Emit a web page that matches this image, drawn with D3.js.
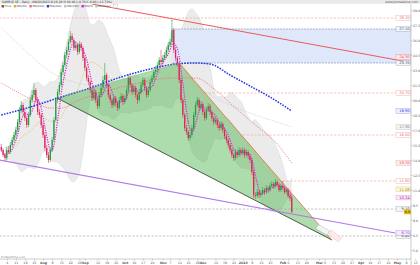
<!DOCTYPE html>
<html lang="en">
<head>
<meta charset="UTF-8" />
<title>daily chart</title>
<style>
  * { margin:0; padding:0; box-sizing:border-box; }
  body { background:#fff; width:420px; height:265px; overflow:hidden; font-family:'DejaVu Sans', sans-serif; }
  svg { display:block; }
  .axis text { font-size:3.2px; fill:#555; font-family:'DejaVu Sans', sans-serif; }
  .axis path, .axis line { stroke:#999; stroke-width:0.5; }
</style>
</head>
<body>
<svg id="chart" width="420" height="265"></svg>
<script src="https://d3js.org/d3.v7.min.js"></script>
<script>
// daily candles, one row per trading day from 29 Jun 2022: [open, high, low, close]
const candles = [
  [15.3,15.6,14.8,15.0],[15.0,15.2,14.3,14.5],[14.5,14.7,13.9,14.2],[14.2,15.3,14.0,15.0],[15.0,15.4,14.6,14.8],
  [14.8,15.8,14.6,15.5],[15.5,16.3,15.3,16.0],[16.0,16.8,15.8,16.5],[16.5,17.3,16.2,17.0],[17.0,18.1,16.8,17.8],
  [17.8,19.3,17.6,19.0],[19.0,19.9,18.7,19.5],[19.5,19.7,18.5,18.8],[18.8,19.1,17.9,18.2],[18.2,18.4,17.2,17.5],
  [17.5,18.8,17.3,18.5],[18.5,20.3,18.3,20.0],[20.0,21.0,19.7,20.5],[20.5,21.7,20.2,21.0],[21.0,21.2,19.8,20.0],
  [20.0,20.3,18.5,18.8],[18.8,19.1,18.2,18.5],[18.5,18.7,17.2,17.5],[17.5,17.8,16.2,16.5],[16.5,16.8,14.9,15.2],
  [15.2,15.5,14.2,14.5],[14.5,14.8,13.7,14.0],[14.0,15.3,13.8,15.0],[15.0,16.3,14.8,16.0],[16.0,18.3,15.8,18.0],
  [18.0,20.3,17.8,20.0],[20.0,21.1,19.7,20.8],[20.8,21.8,20.5,21.5],[21.5,23.1,21.3,22.8],[22.8,23.8,22.5,23.5],
  [23.5,24.8,23.3,24.5],[24.5,25.3,24.2,25.0],[25.0,26.1,24.8,25.8],[25.8,26.9,25.6,26.4],[26.4,26.7,25.7,26.0],
  [26.0,26.2,24.9,25.2],[25.2,25.8,25.0,25.5],[25.5,25.7,24.5,24.8],[24.8,25.9,24.6,25.6],[25.6,25.8,24.9,25.2],
  [25.2,25.4,23.9,24.2],[24.2,24.4,22.9,23.2],[23.2,23.4,21.9,22.2],[22.2,22.5,21.5,21.8],[21.8,22.0,20.7,21.0],
  [21.0,21.3,19.9,20.2],[20.2,21.1,20.0,20.8],[20.8,21.0,19.7,20.0],[20.0,20.2,19.1,19.4],[19.4,20.8,19.2,20.5],
  [20.5,21.5,20.3,21.2],[21.2,22.4,21.0,22.0],[22.0,23.7,21.8,22.5],[22.5,22.7,21.2,21.5],[21.5,21.7,20.2,20.5],
  [20.5,20.7,19.7,20.0],[20.0,20.2,19.2,19.5],[19.5,20.5,19.3,20.2],[20.2,20.4,19.4,19.7],[19.7,19.9,18.9,19.2],
  [19.2,20.3,19.0,20.0],[20.0,20.7,19.8,20.4],[20.4,20.6,19.5,19.8],[19.8,20.5,19.6,20.2],[20.2,21.3,20.0,21.0],
  [21.0,22.6,20.8,22.2],[22.2,22.4,21.2,21.5],[21.5,21.7,20.5,20.8],[20.8,21.5,20.6,21.2],[21.2,21.4,20.2,20.5],
  [20.5,20.7,19.6,20.0],[20.0,21.1,19.8,20.8],[20.8,21.8,20.6,21.5],[21.5,22.3,21.3,22.0],[22.0,22.2,20.9,21.2],
  [21.2,21.4,20.2,20.5],[20.5,21.3,20.3,21.0],[21.0,22.1,20.8,21.8],[21.8,22.5,21.6,22.2],[22.2,23.1,22.0,22.8],
  [22.8,23.4,22.6,23.0],[23.0,23.8,22.8,23.5],[23.5,24.3,23.3,24.0],[24.0,25.0,23.5,23.8],[23.8,24.5,23.6,24.2],
  [24.2,24.8,24.0,24.5],[24.5,25.3,24.3,25.0],[25.0,25.8,24.8,25.5],[25.5,26.1,25.3,25.8],[25.8,27.8,25.6,27.0],
  [27.0,27.2,24.7,25.0],[25.0,25.3,23.9,24.2],[24.2,24.4,23.3,23.6],[23.6,23.8,21.7,22.0],[22.0,22.2,19.7,20.0],
  [20.0,20.2,18.2,18.5],[18.5,18.7,16.9,17.2],[17.2,17.5,16.5,16.8],[16.8,17.0,15.9,16.2],[16.2,16.8,16.0,16.5],
  [16.5,17.5,16.3,17.2],[17.2,18.8,17.0,18.5],[18.5,19.8,18.3,19.5],[19.5,20.3,19.3,20.0],[20.0,20.2,18.9,19.2],
  [19.2,19.9,19.0,19.6],[19.6,19.8,18.5,18.8],[18.8,19.0,17.9,18.2],[18.2,19.3,18.0,19.0],[19.0,19.7,18.8,19.4],
  [19.4,19.6,18.5,18.8],[18.8,19.0,17.9,18.2],[18.2,18.4,17.5,17.8],[17.8,18.3,17.6,18.0],[18.0,18.2,17.2,17.5],
  [17.5,17.7,16.9,17.2],[17.2,17.9,17.0,17.6],[17.6,17.8,16.7,17.0],[17.0,17.2,16.1,16.4],[16.4,16.6,15.7,16.0],
  [16.0,16.2,15.2,15.5],[15.5,15.7,14.7,15.0],[15.0,15.2,14.2,14.5],[14.5,14.7,13.9,14.2],[14.2,15.1,14.0,14.8],
  [14.8,15.0,14.2,14.5],[14.5,15.3,14.3,15.0],[15.0,15.2,14.4,14.7],[14.7,15.3,14.5,15.0],[15.0,15.2,14.2,14.5],
  [14.5,15.1,14.3,14.8],[14.8,15.0,14.1,14.4],[14.4,14.6,13.7,14.0],[14.0,14.2,12.5,12.8],[12.8,13.0,10.2,10.5],
  [10.5,10.8,10.1,10.4],[10.4,11.1,10.2,10.8],[10.8,11.0,10.2,10.5],[10.5,11.0,10.3,10.7],[10.7,11.3,10.5,11.0],
  [11.0,11.2,10.5,10.8],[10.8,11.5,10.6,11.2],[11.2,11.4,10.7,11.0],[11.0,11.7,10.8,11.4],[11.4,11.9,11.2,11.6],
  [11.6,11.8,11.1,11.4],[11.4,12.1,11.2,11.8],[11.8,12.0,11.3,11.5],[11.5,11.7,10.8,11.0],[11.0,11.6,10.8,11.4],
  [11.4,11.9,11.0,11.2],[11.2,11.4,10.6,10.8],[10.8,11.2,10.6,11.0],[11.0,11.2,10.2,10.4],[10.4,10.6,9.9,10.2],
  [10.2,10.4,8.7,8.8]
];
// long moving averages, read at sample days: [dayIndex, price]
const ma100 = [[0,21.7],[14,20.3],[27,19.2],[33,19.2],[43,20.0],[60,21.0],[76,21.7],[93,22.2],[107,22.2],[118,21.0],[129,19.2],[140,17.5],[151,15.8],[160,13.7]];
const ma200 = [[0,18.5],[16,19.3],[33,20.3],[49,21.2],[66,22.3],[82,23.1],[96,23.6],[107,23.7],[115,23.6],[126,22.5],[137,21.4],[148,20.3],[160,18.9]];
const ma150 = [[0,27.2],[10,25.5],[20,23.8],[30,22.5],[40,21.8],[50,21.4],[60,21.2],[70,21.2],[80,21.4],[90,21.6],[100,21.6],[110,21.0],[120,20.0],[130,19.2],[140,18.5],[150,17.9],[160,17.3]];
// drawn objects
const resistanceLevels = [[28.2,-1],[20.7,108],[16.5,131],[11.9,153]]; // [price, from day]
const supportLevels = [[9.1,-1],[6.4,-1]];
const zoneStart = 94, zonePrices = [27.1, 23.7];
const wedge = [[30.7,20.2],[97.9,23.7],[182.2,6.0]];
const trendDown = [[50,29.6],[224,23.8]];
const trendLow = [[-1,14.0],[217,6.7]];
const priceTicks = [5,6.5,8,9.5,11,12.5,14,15.5,17,18.5,20,21.5,23,24.5,26,27.5,29];
const legendNames = ['Price','MA(20)','MA(100)','MA(200)','MA(150)','MA(5)','Bollinger'];
const titleText = 'SAMPLE SE - Daily - 09/02/2023 O:10.20 H:10.40 L:8.70 C:8.80 (-13.73%)';

const up = '#1f9e3c', down = '#e2245a';
const svg = d3.select('#chart');
const R = 411, T = 4, B = 259;
const x = d3.scaleLinear().domain([-0.72, 225.7]).range([0, R]);
const y = d3.scaleLinear().domain([4.1, 29.5]).range([B, 5]);

svg.append('defs').append('clipPath').attr('id','clip')
  .append('rect').attr('x',0).attr('y',T).attr('width',R).attr('height',B-T);
const plot = svg.append('g').attr('clip-path','url(#clip)');

// trading days (weekdays) for the axis
const days = [];
for (let d = new Date(2022,5,29); days.length < 232; d.setDate(d.getDate()+1)) {
  if (d.getDay() % 6 !== 0) days.push(new Date(d));
}

const closes = candles.map(d => d[3]);
function sma(n) {
  return closes.map((c,i) => { const w = closes.slice(Math.max(0,i-n+1), i+1); return [i, d3.mean(w)]; });
}
const ma5 = sma(5), ma20 = sma(20);
const boll = closes.map((c,i) => {
  const w = closes.slice(Math.max(0,i-19), i+1), m = d3.mean(w);
  const s = Math.sqrt(d3.mean(w, v => (v-m)*(v-m)));
  return [i, m+2*s, m-2*s];
}).slice(2);

// bollinger cloud
plot.append('path').datum(boll)
  .attr('d', d3.area().curve(d3.curveMonotoneX).x(d=>x(d[0])).y0(d=>y(d[2])).y1(d=>y(d[1])))
  .attr('fill','#ebebeb');
['1','2'].forEach(k => plot.append('path').datum(boll)
  .attr('d', d3.line().curve(d3.curveMonotoneX).x(d=>x(d[0])).y(d=>y(d[+k])))
  .attr('fill','none').attr('stroke','#d6d6d6').attr('stroke-width',0.5));

// blue zone
plot.append('rect').attr('x',x(zoneStart)).attr('width',R-x(zoneStart))
  .attr('y',y(zonePrices[0])).attr('height',y(zonePrices[1])-y(zonePrices[0]))
  .attr('fill','#dfe7fa');
zonePrices.forEach(p => plot.append('line').attr('x1',x(zoneStart)).attr('x2',R)
  .attr('y1',y(p)).attr('y2',y(p)).attr('stroke','#8d9bbd').attr('stroke-width',0.7).attr('stroke-dasharray','2,1'));

// wedge fill
plot.append('path').datum(wedge)
  .attr('d', d3.line().x(d=>x(d[0])).y(d=>y(d[1])).curve(d3.curveLinearClosed))
  .attr('fill','rgba(60,175,60,0.42)');

// horizontal levels
resistanceLevels.forEach(([p,s]) => plot.append('line').attr('x1',x(s)).attr('x2',R-15)
  .attr('y1',y(p)).attr('y2',y(p)).attr('stroke','#f3a0a0').attr('stroke-width',0.7).attr('stroke-dasharray','2.2,1.6'));
supportLevels.forEach(([p,s]) => plot.append('line').attr('x1',x(s)).attr('x2',R-15)
  .attr('y1',y(p)).attr('y2',y(p)).attr('stroke','#a8a8a8').attr('stroke-width',0.7).attr('stroke-dasharray','2.2,1.6'));

// candles
const cg = plot.append('g');
cg.selectAll('line').data(candles).join('line')
  .attr('x1',(d,i)=>x(i)).attr('x2',(d,i)=>x(i))
  .attr('y1',d=>y(d[1])).attr('y2',d=>y(d[2]))
  .attr('stroke',d=>d[3]>=d[0]?up:down).attr('stroke-width',0.55);
cg.selectAll('rect').data(candles).join('rect')
  .attr('x',(d,i)=>x(i)-0.65).attr('width',1.3)
  .attr('y',d=>y(Math.max(d[0],d[3])))
  .attr('height',d=>Math.max(0.6, Math.abs(y(d[0])-y(d[3]))))
  .attr('fill',d=>d[3]>=d[0]?up:down);
plot.append('circle').attr('cx',x(94)).attr('cy',y(27.8)-1.2).attr('r',0.8).attr('fill','#3bb34a');

// moving averages
const line = d3.line().curve(d3.curveMonotoneX).x(d=>x(d[0])).y(d=>y(d[1]));
function maLine(data, color, w, dash) {
  plot.append('path').datum(data).attr('d',line).attr('fill','none')
    .attr('stroke',color).attr('stroke-width',w).attr('stroke-dasharray',dash);
}
maLine(ma150,'#bdbdbd',0.6,'1,1');
maLine(ma100,'#f06a6a',0.8,'1.2,1.2');
maLine(ma20,'#cdb33a',0.6,'1,1');
maLine(ma200,'#2236e0',1.5,'1.6,1.2');
maLine(ma5,'#dd22d6',1.2,'1.2,1.2');

// drawn trendlines and wedge edges
function seg(a, b, color, w) {
  plot.append('line').attr('x1',x(a[0])).attr('y1',y(a[1])).attr('x2',x(b[0])).attr('y2',y(b[1]))
    .attr('stroke',color).attr('stroke-width',w);
}
seg(wedge[0], wedge[1], '#6fbf6f', 0.5);
seg(wedge[0], wedge[2], '#4d5a4d', 1);
seg(wedge[1], wedge[2], '#e0703a', 0.8);
seg(trendDown[0], trendDown[1], '#ea5a5a', 1);
seg(trendLow[0], trendLow[1], '#b27be6', 1.1);

// small wedge labels near the apex at bottom
plot.append('rect').attr('x',x(wedge[2][0])-16).attr('y',y(wedge[2][1])-13).attr('width',13).attr('height',5)
  .attr('fill','#f4f4f4').attr('stroke','#aaa').attr('stroke-width',0.4).attr('transform',`rotate(30 ${x(wedge[2][0])-10} ${y(wedge[2][1])-10})`);
plot.append('rect').attr('x',x(wedge[2][0])-4).attr('y',y(wedge[2][1])-7).attr('width',13).attr('height',5)
  .attr('fill','#fdeaea').attr('stroke','#f08a8a').attr('stroke-width',0.4).attr('stroke-dasharray','1,0.6')
  .attr('transform',`rotate(40 ${x(wedge[2][0])+2} ${y(wedge[2][1])-4})`);

// right-side value tags
function tag(p, color, fill, border) {
  const g = svg.append('g');
  g.append('rect').attr('x',R-15).attr('y',y(p)-2.3).attr('width',14.5).attr('height',4.6)
    .attr('fill',fill).attr('stroke',border).attr('stroke-width',0.4);
  g.append('text').attr('x',R-1.5).attr('y',y(p)+1.4).attr('text-anchor','end')
    .attr('font-size',3.6).attr('fill',color).text(p.toFixed(2));
}
resistanceLevels.forEach(([p]) => tag(p,'#e86a6a','#fff','#f3a0a0'));
supportLevels.forEach(([p]) => tag(p,'#444','#f4f4f4','#aaa'));
zonePrices.forEach(p => tag(p,'#444','#f2f5fc','#9aa6c4'));
tag(y.invert(y(trendDown[1][1])-5),'#e05050','#fdecec','#ee8a8a');
tag(trendLow[1][1],'#8a4fc8','#f5ecfd','#b27be6');
tag(ma200[ma200.length-1][1],'#2236e0','#eef0ff','#8c96ea');
tag(ma150[ma150.length-1][1],'#777','#f4f4f4','#bbb');
tag(ma100[ma100.length-1][1],'#e04848','#fdecec','#f0a0a0');
tag(ma20[ma20.length-1][1]+0.15,'#9a8420','#fbf6dc','#d8c670');
tag(ma5[ma5.length-1][1],'#b01aa8','#fbe6fa','#e08ade');
{
  const last = closes[closes.length-1];
  svg.append('rect').attr('x',R-7).attr('y',y(last)-2.3).attr('width',7).attr('height',4.6).attr('fill','#e6c200');
  svg.append('text').attr('x',R-0.8).attr('y',y(last)+1.4).attr('text-anchor','end')
    .attr('font-size',3.4).attr('fill','#222').text(last.toFixed(1));
}

// axes
svg.append('g').attr('class','axis').attr('transform',`translate(${R},0)`)
  .call(d3.axisRight(y).tickValues(priceTicks).tickSize(1.5).tickPadding(0.4).tickFormat(d3.format('.1f')))
  .call(g => g.select('.domain').attr('d',`M0,${T}V${B+6}`));

const monthFmt = d3.timeFormat('%b');
const monthIdx = days.map((d,i) => i).filter(i => i > 10 && days[i].getMonth() !== days[i-1].getMonth());
const labelIdx = [], labelText = [], labelBold = [];
days.forEach((d,i) => {
  if (monthIdx.includes(i)) {
    labelIdx.push(i); labelText.push(d.getMonth()===0 ? String(d.getFullYear()) : monthFmt(d)); labelBold.push(true);
  } else if (d.getDay() === 1 && monthIdx.every(m => i - m >= 3 || m - i >= 3)) {
    labelIdx.push(i); labelText.push(String(d.getDate())); labelBold.push(false);
  }
});
const xa = svg.append('g').attr('class','axis').attr('transform',`translate(0,${B})`)
  .call(d3.axisBottom(x).tickValues(labelIdx).tickSize(1.5).tickPadding(0.8)
    .tickFormat((d,k) => labelText[k]));
xa.select('.domain').attr('d',`M0,0H${R}`);
xa.selectAll('.tick text').attr('font-weight',(d,k)=>labelBold[k]?'bold':'normal');

// header
svg.append('rect').attr('x',0).attr('y',0).attr('width',420).attr('height',3.8).attr('fill','#e9e9e9');
svg.append('text').attr('x',2).attr('y',3).attr('font-size',3).attr('fill','#333').text(titleText);
svg.append('text').attr('x',418).attr('y',3).attr('text-anchor','end').attr('font-size',3).attr('fill','#555').text('www.prorealtime.com');
const legendColors = [down,'#cdb33a','#f06a6a','#2236e0','#bdbdbd','#dd22d6','#bbbbbb'];
let lx = 1.5;
legendNames.forEach((n,k) => {
  svg.append('rect').attr('x',lx).attr('y',5).attr('width',2.4).attr('height',2.4).attr('fill',legendColors[k]);
  if (k === 0) svg.append('rect').attr('x',lx+1.2).attr('y',5).attr('width',1.2).attr('height',2.4).attr('fill',up);
  const t = svg.append('text').attr('x',lx+3).attr('y',7.3).attr('font-size',2.8).attr('fill','#444').text(n);
  lx += 3 + t.node().getComputedTextLength() + 2.5;
});
svg.append('rect').attr('x',lx).attr('y',4.8).attr('width',4).attr('height',3).attr('fill','#fff').attr('stroke','#999').attr('stroke-width',0.3);
svg.append('text').attr('x',1).attr('y',257.5).attr('font-size',2.8).attr('fill','#888').text('ProRealTime.com');
</script>
</body>
</html>
